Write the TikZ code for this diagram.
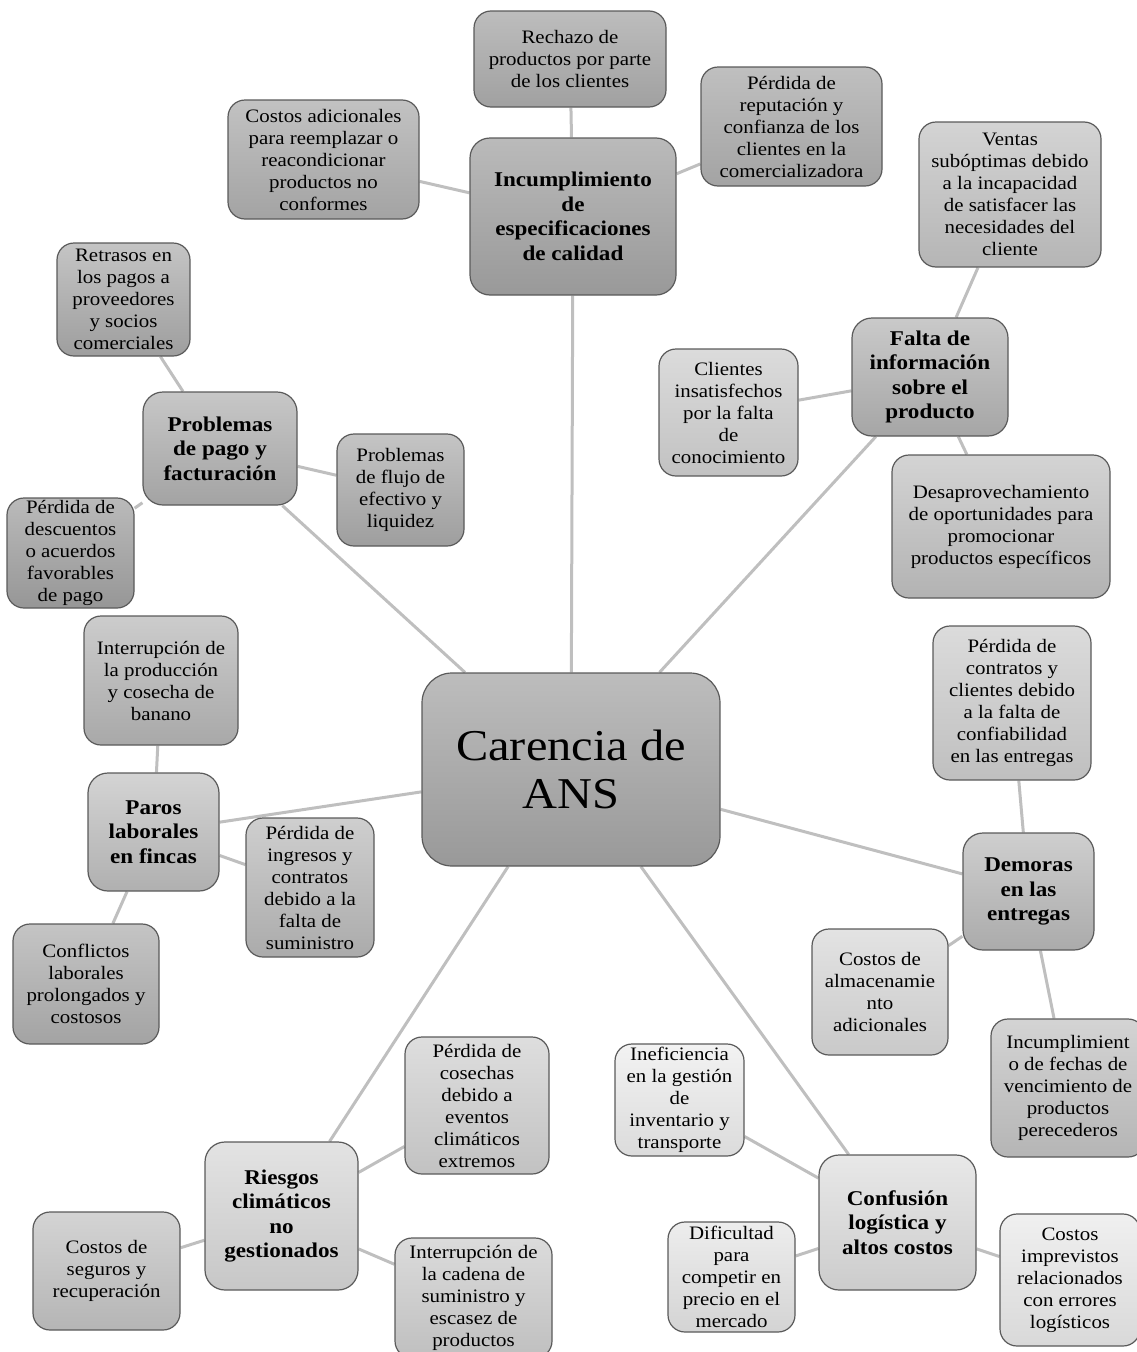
\documentclass[tikz,border=0pt]{standalone}
\usepackage{fontspec}
\setmainfont{Liberation Serif}[FakeStretch=1.1]
\usetikzlibrary{backgrounds}
\definecolor{edgegray}{HTML}{BFBFBF}
\definecolor{bordergray}{HTML}{5A5A5A}
\tikzset{
  tone/.style 2 args={top color=black!#1, bottom color=black!#2},
  basebox/.style={draw=bordergray, line width=1.2pt, rectangle, inner sep=0pt, align=center, text=black},
  sub/.style={basebox, rounded corners=17pt, font=\fontsize{19}{22}\selectfont},
  mid/.style={basebox, rounded corners=20pt, font=\fontsize{21}{24.5}\selectfont\bfseries},
  top/.style={basebox, rounded corners=30pt, font=\fontsize{44}{48}\selectfont},
  link/.style={draw=edgegray, line width=3pt},
}
\begin{document}
\begin{tikzpicture}[x=1pt,y=-1pt]
\useasboundingbox (0,0) rectangle (1137,1352);
% centre
\node[top, tone={26}{40}, minimum width=298, minimum height=193] (C) at (571,769.5) {Carencia de\\ANS};
% Incumplimiento
\node[mid, tone={27}{40}, minimum width=206, minimum height=157] (I) at (573,216.5) {Incumplimiento\\de\\especificaciones\\de calidad};
\node[sub, tone={26}{37}, minimum width=192, minimum height=96] (i1) at (570,59) {Rechazo de\\productos por parte\\de los clientes};
\node[sub, tone={25}{36}, minimum width=181, minimum height=119] (i2) at (791.5,126.5) {Pérdida de\\reputación y\\confianza de los\\clientes en la\\comercializadora};
\node[sub, tone={24}{36}, minimum width=191, minimum height=119] (i3) at (323.5,159.5) {Costos adicionales\\para reemplazar o\\reacondicionar\\productos no\\conformes};
% Falta
\node[mid, tone={21}{35}, minimum width=156, minimum height=118] (F) at (930,377) {Falta de\\información\\sobre el\\producto};
\node[sub, tone={17}{29}, minimum width=182, minimum height=145] (f1) at (1010,194.5) {Ventas\\subóptimas debido\\a la incapacidad\\de satisfacer las\\necesidades del\\cliente};
\node[sub, tone={14}{24}, minimum width=139, minimum height=127] (f2) at (728.5,412.5) {Clientes\\insatisfechos\\por la falta\\de\\conocimiento};
\node[sub, tone={17}{30}, minimum width=218, minimum height=143] (f3) at (1001,526.5) {Desaprovechamiento\\de oportunidades para\\promocionar\\productos específicos};
% Problemas
\node[mid, tone={22}{36}, minimum width=154, minimum height=113] (P) at (220,448.5) {Problemas\\de pago y\\facturación};
\node[sub, tone={23}{38}, minimum width=133, minimum height=113] (p1) at (123.5,299.5) {Retrasos en\\los pagos a\\proveedores\\y socios\\comerciales};
\node[sub, tone={23}{38}, minimum width=127, minimum height=112] (p2) at (400.5,490) {Problemas\\de flujo de\\efectivo y\\liquidez};
\node[sub, tone={27}{41}, minimum width=127, minimum height=110] (p3) at (70.5,553) {Pérdida de\\descuentos\\o acuerdos\\favorables\\de pago};
% Paros
\node[mid, tone={17}{31}, minimum width=131, minimum height=118] (L) at (153.5,832) {Paros\\laborales\\en fincas};
\node[sub, tone={20}{34}, minimum width=154, minimum height=129] (l1) at (161,680.5) {Interrupción de\\la producción\\y cosecha de\\banano};
\node[sub, tone={19}{33}, minimum width=128, minimum height=139] (l2) at (310,887.5) {Pérdida de\\ingresos y\\contratos\\debido a la\\falta de\\suministro};
\node[sub, tone={23}{36}, minimum width=146, minimum height=120] (l3) at (86,984) {Conflictos\\laborales\\prolongados y\\costosos};
% Demoras
\node[mid, tone={19}{33}, minimum width=131, minimum height=117] (D) at (1028.5,891.5) {Demoras\\en las\\entregas};
\node[sub, tone={14}{25}, minimum width=158, minimum height=154] (d1) at (1012,703) {Pérdida de\\contratos y\\clientes debido\\a la falta de\\confiabilidad\\en las entregas};
\node[sub, tone={11}{21}, minimum width=136, minimum height=126] (d2) at (880,992) {Costos de\\almacenamie\\nto\\adicionales};
\node[sub, tone={17}{29}, minimum width=154, minimum height=138] (d3) at (1068,1088) {Incumplimient\\o de fechas de\\vencimiento de\\productos\\perecederos};
% Riesgos
\node[mid, tone={11}{22}, minimum width=153, minimum height=148] (R) at (281.5,1216) {Riesgos\\climáticos\\no\\gestionados};
\node[sub, tone={13}{24}, minimum width=144, minimum height=137] (r1) at (477,1105.5) {Pérdida de\\cosechas\\debido a\\eventos\\climáticos\\extremos};
\node[sub, tone={17}{29}, minimum width=147, minimum height=118] (r2) at (106.5,1271) {Costos de\\seguros y\\recuperación};
\node[sub, tone={14}{25}, minimum width=157, minimum height=120] (r3) at (473.5,1298) {Interrupción de\\la cadena de\\suministro y\\escasez de\\productos};
% Confusion
\node[mid, tone={9}{20}, minimum width=157, minimum height=135] (K) at (897.5,1222.5) {Confusión\\logística y\\altos costos};
\node[sub, tone={5}{14}, minimum width=129, minimum height=112] (k1) at (679.5,1100) {Ineficiencia\\en la gestión\\de\\inventario y\\transporte};
\node[sub, tone={7}{17}, minimum width=127, minimum height=110] (k2) at (731.5,1277) {Dificultad\\para\\competir en\\precio en el\\mercado};
\node[sub, tone={6}{15}, minimum width=140, minimum height=132] (k3) at (1070,1280) {Costos\\imprevistos\\relacionados\\con errores\\logísticos};
% connectors
\begin{pgfonlayer}{background}
\foreach \a/\b in {C/I,C/F,C/P,C/L,C/D,C/R,C/K,
  I/i1,I/i2,I/i3,F/f1,F/f2,F/f3,P/p1,P/p2,P/p3,
  L/l1,L/l2,L/l3,D/d1,D/d2,D/d3,R/r1,R/r2,R/r3,K/k1,K/k2,K/k3}
  \draw[link] (\a) -- (\b);
\end{pgfonlayer}
\end{tikzpicture}
\end{document}
